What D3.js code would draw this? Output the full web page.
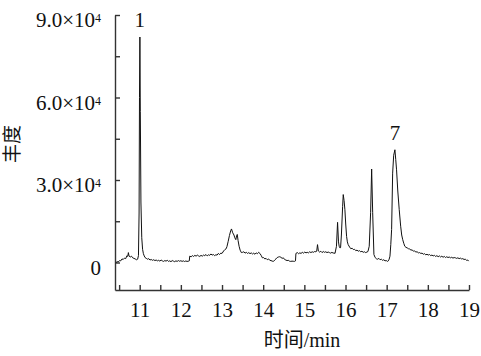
<!DOCTYPE html>
<html>
<head>
<meta charset="utf-8">
<script src="https://cdn.jsdelivr.net/npm/d3@7"></script>
<style>
  body { margin: 0; background: #fff; }
  svg text { font-family: "Liberation Serif", "Times New Roman", "Noto Sans CJK SC", serif; fill: #111; }
</style>
</head>
<body>
<svg width="481" height="356"></svg>
<script>
// chromatogram trace: [retention time (min), abundance]
const trace = [
  [10.42,-100],[10.45,300],[10.48,200],[10.51,700],[10.54,600],[10.57,1300],[10.60,1100],[10.63,1600],
  [10.66,1400],[10.69,2500],[10.71,2200],[10.725,3600],[10.74,2400],[10.77,2000],[10.80,2300],[10.83,1700],
  [10.86,1500],[10.89,1300],[10.92,1000],[10.95,1200],[10.97,2500],[10.985,18000],[10.995,60000],[11.005,82000],
  [11.015,55000],[11.03,22000],[11.05,9000],[11.07,4800],[11.09,3200],[11.11,2400],[11.13,1800],[11.16,1500],
  [11.19,1200],[11.22,1400],[11.25,900],[11.28,1100],[11.31,800],[11.34,1000],[11.37,700],[11.40,900],
  [11.43,600],[11.46,800],[11.49,500],[11.52,900],[11.55,600],[11.58,400],[11.61,700],[11.64,500],
  [11.67,800],[11.70,400],[11.73,600],[11.76,300],[11.79,700],[11.82,500],[11.85,300],[11.88,600],
  [11.91,400],[11.94,700],[11.97,450],[12.00,650],[12.03,400],[12.06,600],[12.09,350],[12.12,550],
  [12.15,400],[12.18,450],[12.205,600],[12.215,2300],[12.25,2100],[12.28,2500],[12.31,2200],[12.34,2600],
  [12.37,2300],[12.40,2700],[12.43,2400],[12.46,2200],[12.49,2600],[12.52,2300],[12.55,2700],[12.58,2500],
  [12.61,2900],[12.64,2400],[12.67,2800],[12.70,2600],[12.73,3100],[12.76,2700],[12.79,2900],[12.82,2500],
  [12.85,2800],[12.88,2700],[12.91,3300],[12.94,2900],[12.97,3400],[13.00,3300],[13.04,4200],[13.07,4700],
  [13.10,5000],[13.12,5800],[13.15,7700],[13.18,9800],[13.21,11500],[13.23,12200],[13.26,10800],[13.29,10000],
  [13.31,9000],[13.335,8300],[13.355,9800],[13.37,10200],[13.39,8000],[13.415,5900],[13.44,4500],[13.47,3600],
  [13.50,3700],[13.53,3900],[13.56,3400],[13.59,3700],[13.62,3300],[13.65,3600],[13.68,3200],[13.71,3500],
  [13.74,3100],[13.77,3400],[13.80,3000],[13.83,3500],[13.86,3200],[13.89,3700],[13.92,3300],[13.95,2600],
  [13.98,1700],[14.01,1800],[14.04,1300],[14.07,1500],[14.10,1000],[14.13,1300],[14.16,800],[14.19,700],
  [14.22,500],[14.25,400],[14.28,900],[14.31,1300],[14.34,1800],[14.37,2000],[14.40,2100],[14.43,1900],
  [14.46,1500],[14.49,1700],[14.52,1100],[14.55,900],[14.58,700],[14.61,800],[14.64,500],[14.67,400],
  [14.70,500],[14.73,450],[14.76,400],[14.785,600],[14.795,3300],[14.83,3600],[14.86,3200],[14.89,3500],
  [14.92,3300],[14.95,3700],[14.98,3400],[15.01,3800],[15.04,3500],[15.07,3700],[15.10,3500],[15.13,3900],
  [15.16,3600],[15.19,3900],[15.22,3700],[15.25,4000],[15.28,3900],[15.30,4100],[15.32,6500],[15.34,4200],
  [15.37,3800],[15.40,4100],[15.43,3600],[15.46,4000],[15.49,3700],[15.52,3900],[15.55,3600],[15.58,3800],
  [15.61,3600],[15.64,3400],[15.67,3700],[15.70,3400],[15.72,3500],[15.745,3300],[15.78,5900],[15.807,14600],
  [15.83,7500],[15.846,5900],[15.865,5300],[15.88,5400],[15.90,10000],[15.93,20400],[15.945,24700],[15.965,22500],
  [15.985,19200],[16.005,14000],[16.026,9500],[16.045,7500],[16.065,6500],[16.10,5600],[16.13,5000],[16.16,5200],
  [16.19,4700],[16.22,4800],[16.25,4300],[16.28,4500],[16.31,4100],[16.34,4300],[16.37,3900],[16.40,4100],
  [16.43,3700],[16.46,3900],[16.49,3600],[16.52,3800],[16.545,4000],[16.576,5900],[16.61,18100],[16.635,34000],
  [16.66,18100],[16.69,2900],[16.72,1800],[16.756,1300],[16.78,1200],[16.81,1500],[16.84,1000],[16.87,1200],
  [16.90,800],[16.93,1000],[16.96,600],[16.99,700],[17.02,400],[17.04,600],[17.06,1200],[17.08,2300],
  [17.10,6500],[17.12,12000],[17.145,32500],[17.17,39000],[17.20,41000],[17.22,37500],[17.24,33700],[17.27,26000],
  [17.305,19200],[17.34,13200],[17.365,10000],[17.39,8300],[17.415,7000],[17.44,5900],[17.47,5500],[17.50,5300],
  [17.53,5000],[17.56,4900],[17.59,4500],[17.62,4600],[17.65,4100],[17.68,4200],[17.71,3800],[17.74,3900],
  [17.77,3500],[17.80,3600],[17.83,3300],[17.86,3400],[17.89,3000],[17.92,3200],[17.95,2800],[17.98,3000],
  [18.01,2700],[18.04,2900],[18.07,2500],[18.10,2700],[18.13,2400],[18.16,2600],[18.19,2200],[18.22,2500],
  [18.25,2100],[18.28,2400],[18.31,2000],[18.34,2300],[18.37,1900],[18.40,2200],[18.43,1800],[18.46,2100],
  [18.49,1800],[18.52,2000],[18.55,1700],[18.58,1900],[18.61,1600],[18.64,1800],[18.67,1700],[18.70,1500],
  [18.73,1700],[18.76,1400],[18.79,1600],[18.82,1300],[18.85,1400],[18.88,1100],[18.91,1200],[18.94,800],
  [18.97,900],[18.99,500]
];

const xTicks = [11, 12, 13, 14, 15, 16, 17, 18, 19];
const xMinorTicks = [10.5, 11.5, 12.5, 13.5, 14.5, 15.5, 16.5, 17.5, 18.5];
const yTicks = [0, 30000, 60000, 90000];
const yTickLabels = ["0", "3.0×10", "6.0×10", "9.0×10"];
const yMinorTicks = [15000, 45000, 75000];
const peakLabels = [{t: 11.0, v: 82000, label: "1"}, {t: 17.2, v: 41000, label: "7"}];

const svg = d3.select("svg");

const x = d3.scaleLinear().domain([10.4, 19]).range([115, 469]);
const y = d3.scaleLinear().domain([-10000, 90000]).range([290, 15]);

// x axis, ticks pointing inward
svg.append("g")
    .attr("transform", `translate(0,${y.range()[0]})`)
    .call(d3.axisBottom(x).tickValues(xTicks).tickSize(-5).tickSizeOuter(0).tickPadding(12).tickFormat(d3.format("d")));
svg.append("g")
    .attr("transform", `translate(0,${y.range()[0]})`)
    .call(d3.axisBottom(x).tickValues(xMinorTicks).tickSize(-5).tickSizeOuter(0).tickFormat(""))
    .select(".domain").remove();

// y axis
const yAxis = svg.append("g")
    .attr("transform", `translate(${x.range()[0]},0)`)
    .call(d3.axisLeft(y).tickValues(yTicks).tickSize(-5).tickSizeOuter(0).tickPadding(14).tickFormat(""));
svg.append("g")
    .attr("transform", `translate(${x.range()[0]},0)`)
    .call(d3.axisLeft(y).tickValues(yMinorTicks).tickSize(-5).tickSizeOuter(0).tickFormat(""))
    .select(".domain").remove();

// labels like 3.0×10^4 with a raised exponent
yAxis.selectAll(".tick text").each(function(d, i) {
    const t = d3.select(this).attr("dy", "0.55em");
    t.append("tspan").text(yTickLabels[i]);
    if (d !== 0) {
        t.append("tspan").attr("dy", "-0.42em").style("font-size", "12px").text("4");
    }
});

svg.selectAll(".domain, .tick line")
    .attr("stroke", "#333")
    .attr("stroke-width", 1.4);
svg.selectAll(".tick text")
    .style("font-size", "21px")
    .attr("fill", "#111");

// trace
const line = d3.line()
    .x(d => x(d[0]))
    .y(d => y(d[1]));

svg.append("path")
    .datum(trace)
    .attr("fill", "none")
    .attr("stroke", "#111")
    .attr("stroke-width", 1)
    .attr("stroke-linejoin", "round")
    .attr("d", line);

// peak numbers
svg.selectAll(".peak")
    .data(peakLabels)
    .enter().append("text")
    .attr("class", "peak")
    .attr("x", d => x(d.t))
    .attr("y", d => y(d.v) - 10)
    .attr("text-anchor", "middle")
    .style("font-size", "21px")
    .text(d => d.label);

// axis titles
svg.append("text")
    .attr("x", 302)
    .attr("y", 347)
    .attr("text-anchor", "middle")
    .style("font-size", "20px")
    .text("时间/min");

svg.append("text")
    .attr("transform", "translate(19,144) rotate(-90)")
    .attr("text-anchor", "middle")
    .style("font-size", "19px")
    .text("丰度");
</script>
</body>
</html>
